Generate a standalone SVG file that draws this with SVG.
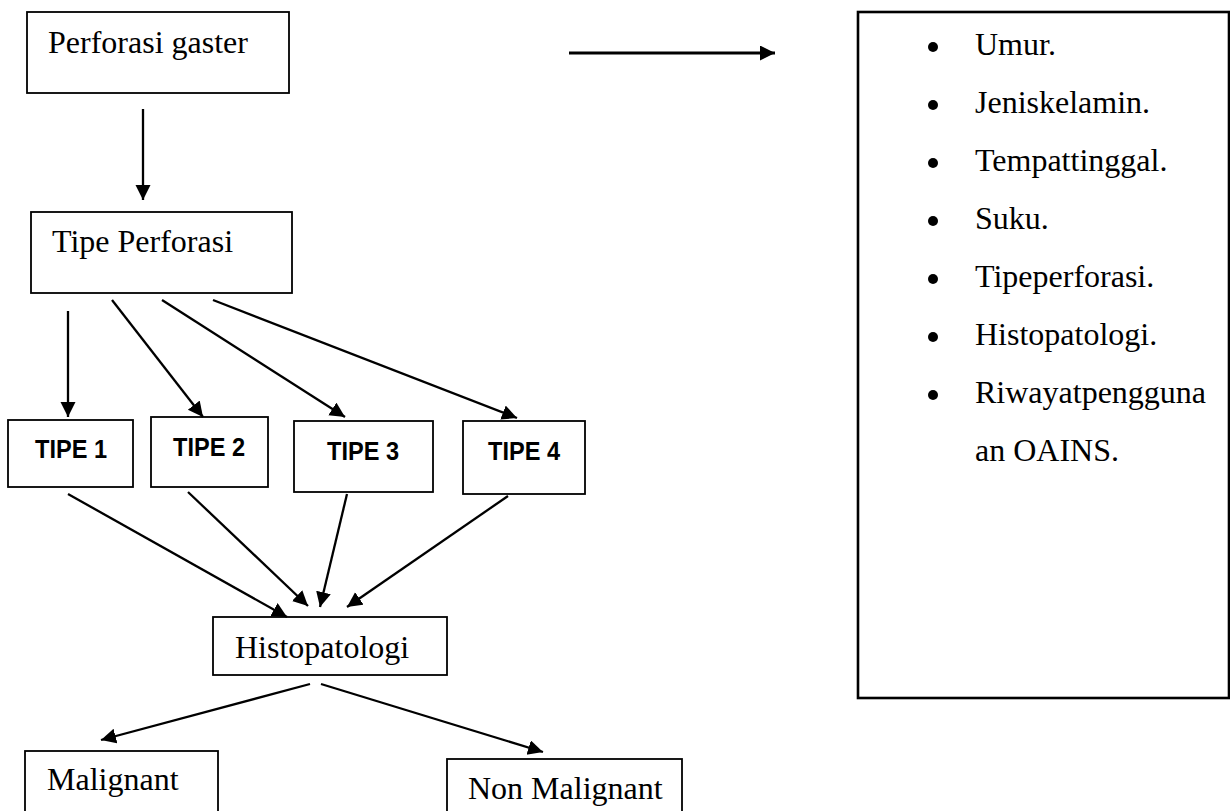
<svg xmlns="http://www.w3.org/2000/svg" width="1230" height="811" viewBox="0 0 1230 811">
  <style>
    .box { fill: #fff; stroke: #000; stroke-width: 1.8; }
    .big { fill: #fff; stroke: #000; stroke-width: 2.6; }
    .serif { font-family: "Liberation Serif", "Times New Roman", serif; font-size: 32px; fill: #000; }
    .bold { font-family: "Liberation Sans", Arial, sans-serif; font-weight: bold; font-size: 26px; fill: #000; }
    .conn { stroke: #000; stroke-width: 2.3; fill: none; marker-end: url(#arrow); }
  </style>
  <defs>
    <marker id="arrow" markerUnits="userSpaceOnUse" markerWidth="17" markerHeight="17" refX="15" refY="7.5" orient="auto">
      <path d="M0,0 L15,7.5 L0,15 z" fill="#000"/>
    </marker>
  </defs>
  <rect width="1230" height="811" fill="#fff"/>

  <g id="perforasi-gaster">
    <rect class="box" x="27" y="12" width="262" height="81"/>
    <text class="serif" x="48" y="53">Perforasi gaster</text>
  </g>
  <g id="tipe-perforasi">
    <rect class="box" x="31" y="212" width="261" height="81"/>
    <text class="serif" x="52" y="252">Tipe Perforasi</text>
  </g>
  <g id="tipe1">
    <rect class="box" x="8" y="420" width="125" height="67"/>
    <text class="bold" x="35" y="458" textLength="72" lengthAdjust="spacingAndGlyphs">TIPE 1</text>
  </g>
  <g id="tipe2">
    <rect class="box" x="151" y="417" width="117" height="70"/>
    <text class="bold" x="173" y="456" textLength="72" lengthAdjust="spacingAndGlyphs">TIPE 2</text>
  </g>
  <g id="tipe3">
    <rect class="box" x="294" y="421" width="139" height="71"/>
    <text class="bold" x="327" y="460" textLength="72" lengthAdjust="spacingAndGlyphs">TIPE 3</text>
  </g>
  <g id="tipe4">
    <rect class="box" x="463" y="421" width="122" height="73"/>
    <text class="bold" x="488" y="460" textLength="72" lengthAdjust="spacingAndGlyphs">TIPE 4</text>
  </g>
  <g id="histopatologi">
    <rect class="box" x="213" y="617" width="234" height="58"/>
    <text class="serif" x="235" y="658">Histopatologi</text>
  </g>
  <g id="malignant">
    <rect class="box" x="25" y="751" width="193" height="70"/>
    <text class="serif" x="47" y="790">Malignant</text>
  </g>
  <g id="non-malignant">
    <rect class="box" x="447" y="759" width="235" height="70"/>
    <text class="serif" x="468" y="799">Non Malignant</text>
  </g>
  <g id="variabel">
    <rect class="big" x="858" y="12" width="371" height="686"/>
    <circle cx="933" cy="47" r="5"/>
    <text class="serif" x="975" y="55">Umur.</text>
    <circle cx="933" cy="105" r="5"/>
    <text class="serif" x="975" y="113">Jeniskelamin.</text>
    <circle cx="933" cy="163" r="5"/>
    <text class="serif" x="975" y="171">Tempattinggal.</text>
    <circle cx="933" cy="221" r="5"/>
    <text class="serif" x="975" y="229">Suku.</text>
    <circle cx="933" cy="279" r="5"/>
    <text class="serif" x="975" y="287">Tipeperforasi.</text>
    <circle cx="933" cy="337" r="5"/>
    <text class="serif" x="975" y="345">Histopatologi.</text>
    <circle cx="933" cy="395" r="5"/>
    <text class="serif" x="975" y="403">Riwayatpengguna</text>
    <text class="serif" x="975" y="461">an OAINS.</text>
  </g>

  <g id="connectors">
    <line class="conn" x1="569" y1="53" x2="775" y2="53" style="stroke-width:3"/>
    <line class="conn" x1="143" y1="109" x2="143" y2="200"/>
    <line class="conn" x1="68" y1="311" x2="68" y2="417"/>
    <line class="conn" x1="112" y1="300" x2="203" y2="417"/>
    <line class="conn" x1="162" y1="300" x2="345" y2="417"/>
    <line class="conn" x1="213" y1="300" x2="517" y2="418"/>
    <line class="conn" x1="68" y1="494" x2="287" y2="617"/>
    <line class="conn" x1="188" y1="492" x2="308" y2="606"/>
    <line class="conn" x1="347" y1="494" x2="320" y2="607"/>
    <line class="conn" x1="508" y1="496" x2="347" y2="607"/>
    <line class="conn" x1="310" y1="684" x2="101" y2="740"/>
    <line class="conn" x1="321" y1="684" x2="543" y2="752"/>
  </g>
</svg>
